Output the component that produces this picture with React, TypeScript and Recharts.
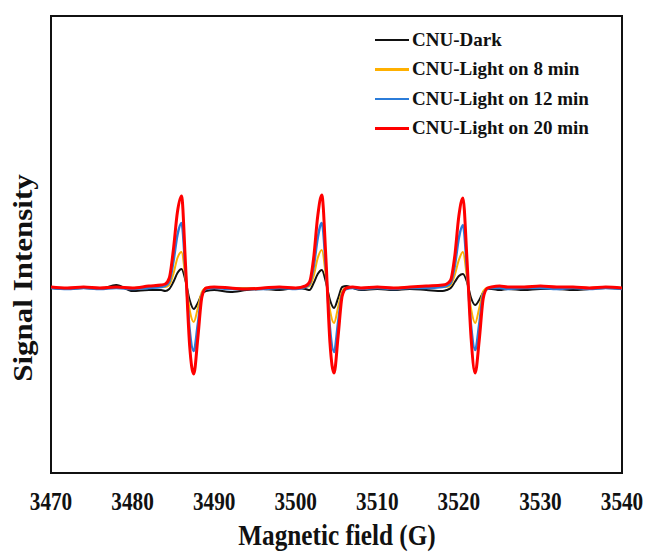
import { LineChart, Line, XAxis, YAxis, ReferenceArea } from "recharts";

// magnetic field positions (G)
const field = [
  3470, 3472, 3474, 3476, 3478, 3480, 3482, 3483.5,
  3484, 3484.5, 3485, 3485.5, 3486, 3486.5, 3487, 3487.5, 3488, 3488.5, 3489,
  3490, 3492, 3494, 3496, 3498, 3500, 3501.2,
  3501.7, 3502.2, 3502.7, 3503.2, 3503.7, 3504.2, 3504.7, 3505.2, 3505.7, 3506.2,
  3507, 3508, 3510, 3512, 3514, 3516, 3518,
  3518.5, 3519, 3519.5, 3520, 3520.5, 3521, 3521.5, 3522, 3522.5, 3523, 3523.5,
  3524, 3525, 3526, 3528, 3530, 3532, 3534, 3536, 3538, 3540,
];

const dark = [
  0, -1, 0, -1, 3, -3, -2, -2,
  -3, -1, 6, 15, 19, 7, -12, -21, -15, -6, -3,
  -2, -4, -2, -1, -2, 0, -1,
  -2, 5, 14, 18, 6, -12, -20, -10, 1, 2,
  0, -2, -1, -2, -1, -2, -3,
  -2, 0, 6, 12, 14, 6, -10, -17, -12, -4, -1,
  -1, -2, -1, -2, -1, -1, -2, -1, 0, -1,
];

const light8 = [
  0, 0, 0, 0, 0, 0, 1, 1,
  1, 3, 14, 30, 36, 9, -22, -34, -20, -4, 0,
  0, 0, 0, 0, 0, 0, 1,
  2, 12, 30, 38, 12, -22, -35, -19, -3, 0,
  0, 0, 0, 0, 1, 1, 1,
  1, 3, 13, 28, 36, 10, -21, -35, -20, -3, 0,
  0, 1, 0, 1, 1, 0, 1, 0, 1, 0,
];

const light12 = [
  0, -1, 0, -1, 0, -1, 0, 1,
  2, 6, 26, 53, 65, 15, -42, -63, -36, -7, -1,
  0, -1, -1, -1, 0, -1, 1,
  4, 21, 50, 65, 20, -40, -64, -34, -6, -1,
  0, -1, 0, -1, 0, 0, 1,
  2, 5, 22, 50, 63, 18, -38, -62, -36, -6, -1,
  0, 0, -1, 0, 0, -1, 0, -1, 0, -1,
];

const light20 = [
  1, 0, 1, 0, 1, 0, 2, 3,
  4, 10, 38, 76, 92, 22, -58, -86, -50, -9, 0,
  1, 0, -1, 0, 1, 0, 2,
  6, 30, 72, 93, 30, -55, -85, -48, -8, 0,
  1, 0, 1, 0, 1, 2, 3,
  4, 8, 32, 72, 90, 28, -50, -85, -52, -10, 0,
  1, 2, 1, 1, 2, 1, 1, 0, 1, 0,
];

const xTicks = [3470, 3480, 3490, 3500, 3510, 3520, 3530, 3540];

const series = [
  { key: "dark", name: "CNU-Dark", color: "#111111", width: 2 },
  { key: "l8", name: "CNU-Light on 8 min", color: "#FFB000", width: 2 },
  { key: "l12", name: "CNU-Light on 12 min", color: "#2B7CD9", width: 2.5 },
  { key: "l20", name: "CNU-Light on 20 min", color: "#FF0000", width: 3 },
];

const data = field.map((x, i) => ({
  x,
  dark: dark[i],
  l8: light8[i],
  l12: light12[i],
  l20: light20[i],
}));

const font = "'Liberation Serif', 'Times New Roman', serif";

function FieldTick({ x, payload }: any) {
  return (
    <text
      transform={`translate(${x},510) scale(0.85,1)`}
      textAnchor="middle"
      fontFamily={font}
      fontWeight={700}
      fontSize={25}
      fill="#111"
    >
      {payload.value}
    </text>
  );
}

function FieldLabel() {
  return (
    <text
      transform="translate(337,545) scale(0.87,1)"
      textAnchor="middle"
      fontFamily={font}
      fontWeight={700}
      fontSize={29}
      fill="#111"
    >
      Magnetic field (G)
    </text>
  );
}

function SignalLabel() {
  return (
    <text
      transform="translate(32,278) scale(0.85,1) rotate(-90)"
      textAnchor="middle"
      fontFamily={font}
      fontWeight={700}
      fontSize={31}
      fill="#111"
    >
      Signal Intensity
    </text>
  );
}

function LegendBox() {
  return (
    <div
      style={{
        position: "absolute",
        left: 375,
        top: 25,
        fontFamily: font,
        fontWeight: 700,
        fontSize: 19,
        color: "#111",
      }}
    >
      {series.map((s) => (
        <div key={s.key} style={{ display: "flex", alignItems: "center", height: 29.5 }}>
          <div style={{ width: 34, height: 2.5, background: s.color, marginRight: 3 }} />
          <span style={{ whiteSpace: "nowrap" }}>{s.name}</span>
        </div>
      ))}
    </div>
  );
}

export default function App() {
  return (
    <div style={{ position: "absolute", left: 0, top: 0, width: 647, height: 552, background: "#fff" }}>
      <LineChart width={647} height={552} data={data} margin={{ top: 16, right: 25, bottom: 49, left: 11 }}>
        <XAxis
          dataKey="x"
          type="number"
          domain={[3470, 3540]}
          ticks={xTicks}
          axisLine={false}
          tickLine={false}
          height={30}
          tick={<FieldTick />}
          label={<FieldLabel />}
          allowDataOverflow
        />
        <YAxis
          domain={[-185, 272]}
          allowDataOverflow
          width={40}
          tick={false}
          tickLine={false}
          axisLine={false}
          label={<SignalLabel />}
        />
        {series.map((s) => (
          <Line
            key={s.key}
            type="monotone"
            dataKey={s.key}
            name={s.name}
            stroke={s.color}
            strokeWidth={s.width}
            dot={false}
            isAnimationActive={false}
          />
        ))}
        <ReferenceArea
          x1={3470}
          x2={3540}
          y1={-185}
          y2={272}
          fill="none"
          stroke="#111"
          strokeWidth={2}
          ifOverflow="visible"
        />
      </LineChart>
      <LegendBox />
    </div>
  );
}
